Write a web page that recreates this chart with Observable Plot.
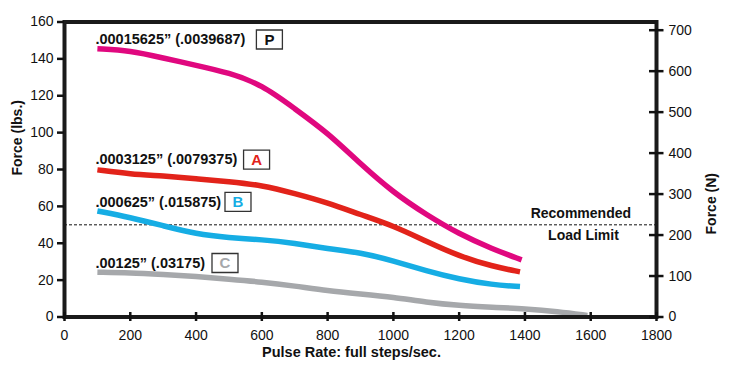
<!DOCTYPE html>
<html>
<head>
<meta charset="utf-8">
<script src="https://cdn.jsdelivr.net/npm/d3@7"></script>
<script src="https://cdn.jsdelivr.net/npm/@observablehq/plot@0.6"></script>
<style>
  html, body { margin: 0; padding: 0; background: #fff; }
  #chart svg { display: block; }
</style>
</head>
<body>
<div id="chart"></div>
<script>
// ---- data ----
const pulseP = [100, 200, 300, 400, 500, 600, 700, 800, 900, 1000, 1100, 1200, 1300, 1390];
const forceP = [145.5, 144.5, 140.5, 136.5, 132.5, 126, 113, 100, 83, 67.5, 55.5, 45, 37, 31];

const pulseA = [100, 200, 300, 400, 500, 600, 700, 800, 900, 1000, 1100, 1200, 1300, 1385];
const forceA = [79.8, 77.5, 76.5, 75, 73.5, 71.5, 67, 62, 55.5, 49.5, 41, 33, 27.5, 24.5];

const pulseB = [100, 200, 300, 400, 500, 600, 700, 800, 900, 1000, 1100, 1200, 1300, 1385];
const forceB = [57.5, 54, 49.5, 45, 43, 42, 40, 37, 35, 30.5, 25, 20.5, 17.5, 16.5];

const pulseC = [100, 200, 300, 400, 500, 600, 700, 800, 900, 1000, 1100, 1200, 1300, 1400, 1500, 1590];
const forceC = [24.3, 24, 23, 22, 20.5, 19, 16.8, 14.2, 12.5, 10.8, 8, 6.2, 5.3, 4.5, 3, 0.8];

const seriesColors = ["#e0087f", "#e2231a", "#16ade4", "#a6a8ab"];

const labelTexts = [".00015625\u201d (.0039687)", ".0003125\u201d (.0079375)", ".000625\u201d (.015875)", ".00125\u201d (.03175)"];
const labelLetters = ["P", "A", "B", "C"];
const letterColors = ["#111111", "#e2231a", "#16ade4", "#a6a8ab"];
const labelX = [94, 94, 94, 94];
const labelY = [150.5, 85.4, 62.4, 29.3];
const boxX = [623, 584, 527.5, 488];

const xTicks = [0, 200, 400, 600, 800, 1000, 1200, 1400, 1600, 1800];
const yTicks = [0, 20, 40, 60, 80, 100, 120, 140, 160];
const nTicks = [0, 100, 200, 300, 400, 500, 600, 700];
const lbsToN = 4.5;

const loadLimit = 50;
const noteTexts = ["Recommended", "Load Limit"];
const noteX = [1570, 1578];

// ---- build tables ----
const mk = (xs, ys, s) => xs.map((x, i) => ({pulse: x, force: ys[i], s}));
const curves = [mk(pulseP, forceP, 0), mk(pulseA, forceA, 1), mk(pulseB, forceB, 2), mk(pulseC, forceC, 3)];
const labels = labelTexts.map((t, i) => ({
  text: t, letter: labelLetters[i], x: labelX[i], y: labelY[i], bx: boxX[i], lc: letterColors[i]
}));

const boxSymbol = {
  draw(ctx) { ctx.rect(-13, -9.5, 26, 19); }
};

const font = "'Liberation Sans', Arial, Helvetica, sans-serif";

const chart = Plot.plot({
  width: 729,
  height: 376,
  marginLeft: 64,
  marginRight: 73,
  marginTop: 21.5,
  marginBottom: 59.5,
  style: {fontFamily: font, fontSize: "14px", color: "#111", background: "#fff"},
  x: {domain: [0, 1800]},
  y: {domain: [0, 160]},
  marks: [
    Plot.ruleY([loadLimit], {stroke: "#111", strokeWidth: 1, strokeDasharray: "3,2"}),
    ...curves.map((c, i) => Plot.line(c, {
      x: "pulse", y: "force", stroke: seriesColors[i], strokeWidth: 5.5,
      curve: "basis", strokeLinecap: "butt"
    })),
    Plot.frame({stroke: "#1a1a1a", strokeWidth: 4}),
    // left axis
    Plot.axisY({ticks: yTicks, anchor: "left", tickSize: 7, tickPadding: 4, strokeWidth: 2.5, label: null, fontSize: 14}),
    // bottom axis (outward + inward ticks)
    Plot.axisX({ticks: xTicks, tickFormat: d => String(d), anchor: "bottom", tickSize: 4.5, tickPadding: 9, strokeWidth: 2.5, label: null, fontSize: 14}),
    Plot.axisX({ticks: xTicks, anchor: "bottom", tickSize: -4.5, text: null, strokeWidth: 2.5, label: null}),
    // right axis in newtons
    Plot.axisY({ticks: nTicks.map(n => n / lbsToN), tickFormat: d => String(Math.round(d * lbsToN)),
      anchor: "right", tickSize: 6.5, tickPadding: 5.5, strokeWidth: 2.5, label: null, fontSize: 14}),
    Plot.axisY({ticks: nTicks.map(n => n / lbsToN), anchor: "right", tickSize: -8, text: null, strokeWidth: 2.5, label: null}),
    // axis titles
    Plot.text(["Force (lbs.)"], {frameAnchor: "left", dx: -46.5, dy: 6, rotate: -90, fontWeight: "bold", fontSize: 14}),
    Plot.text(["Force (N)"], {frameAnchor: "right", dx: 55.5, dy: 3.5, rotate: -90, fontWeight: "bold", fontSize: 14}),
    Plot.text(["Pulse Rate: full steps/sec."], {frameAnchor: "bottom", dx: -9, dy: 39.5, fontWeight: "bold", fontSize: 14.5}),
    // load limit note
    Plot.text([noteTexts[0]], {x: noteX[0], y: loadLimit, dy: -11.3, fontWeight: "bold", fontSize: 14}),
    Plot.text([noteTexts[1]], {x: noteX[1], y: loadLimit, dy: 10.7, fontWeight: "bold", fontSize: 14}),
    // series labels
    Plot.text(labels, {x: "x", y: "y", text: "text", textAnchor: "start", fontWeight: "bold", fontSize: 14.5, fill: "#111"}),
    Plot.dot(labels, {x: "bx", y: "y", symbol: boxSymbol, r: 5, fill: "white", stroke: "#333", strokeWidth: 1.3}),
    Plot.text(labels, {x: "bx", y: "y", text: "letter", fill: "lc", fontWeight: "bold", fontSize: 15, dy: 0.5})
  ]
});

document.getElementById("chart").appendChild(chart);
</script>
</body>
</html>
